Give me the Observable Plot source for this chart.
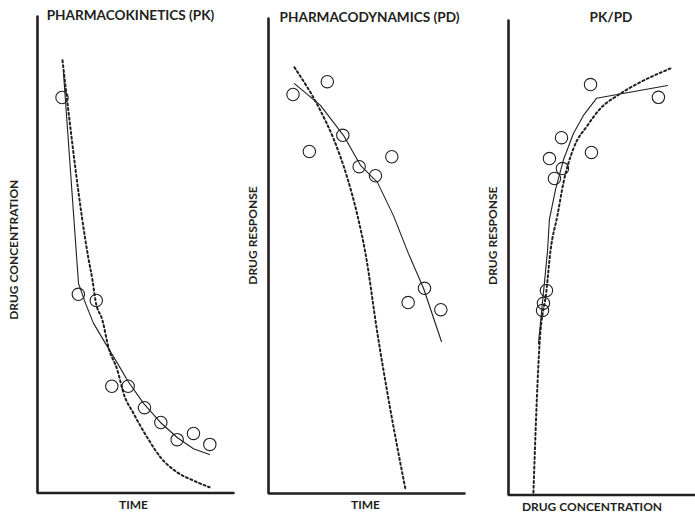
<!DOCTYPE html>
<html>
<head>
<meta charset="utf-8">
<script src="https://cdn.jsdelivr.net/npm/d3@7"></script>
<script src="https://cdn.jsdelivr.net/npm/@observablehq/plot@0.6"></script>
<style>
  body { margin: 0; background: #fff; }
  #chart { position: relative; width: 695px; height: 513px; overflow: hidden; }
  #chart > .panel { position: absolute; top: 0; }
</style>
</head>
<body>
<div id="chart"></div>
<script>
// Shared sampling times (h) for the observed data
const sampleTimes = [1.5, 2.5, 3.6, 4.55, 5.55, 6.55, 7.55, 8.55, 9.55, 10.55];

// Pharmacokinetics: observed concentration and two model curves
const pkObserved = [83.0, 41.7, 40.4, 22.4, 22.4, 17.9, 14.8, 11.2, 12.5, 10.2];
const pkFitTime = [1.59, 2.51, 2.94, 3.43, 4.16, 4.90, 5.51, 6.49, 7.53, 8.57, 9.55, 10.53];
const pkFitConc = [88.2, 44.0, 39.8, 35.6, 31.4, 27.2, 23.6, 18.8, 14.8, 11.6, 9.3, 8.1];
const pkAltTime = [1.53, 3.12, 3.37, 3.55, 3.98, 4.35, 4.90, 5.27, 5.88, 6.73, 7.53, 8.57, 9.55, 10.53];
const pkAltConc = [90.8, 49.2, 44.6, 40.4, 36.2, 30.5, 25.7, 20.9, 16.7, 11.6, 7.5, 4.3, 2.6, 1.2];

// Pharmacodynamics: observed response and two model curves
const pdObserved = [84.0, 72.0, 86.7, 75.4, 68.8, 66.9, 70.9, 40.2, 43.2, 38.7];
const pdFitTime = [1.59, 3.18, 4.59, 5.63, 6.67, 7.65, 8.57, 9.49, 10.59];
const pdFitResp = [86.3, 81.7, 75.4, 69.1, 65.5, 58.5, 50.5, 43.2, 32.0];
const pdAltTime = [1.59, 3.18, 3.98, 4.84, 5.45, 5.94, 6.67, 7.47, 8.39];
const pdAltResp = [89.7, 80.6, 74.7, 66.3, 58.5, 50.5, 33.7, 17.5, 0.8];

// PK/PD: response against concentration
const pkpdConc = [44.1, 80.6, 28.5, 22.0, 44.6, 29.0, 24.7, 20.4, 18.8, 18.3];
const pkpdResp = [86.5, 83.8, 75.3, 70.9, 72.2, 68.8, 66.7, 43.1, 40.4, 38.9];
const pkpdFitConc = [16.1, 21.0, 22.0, 25.3, 29.6, 34.9, 40.3, 47.3, 85.5];
const pkpdFitResp = [31.9, 51.5, 58.1, 64.4, 70.7, 76.2, 80.0, 83.6, 86.3];
const pkpdAltConc = [13.4, 15.6, 16.7, 20.4, 22.6, 26.3, 29.6, 34.9, 42.5, 49.5, 58.6, 69.4, 87.1];
const pkpdAltResp = [0.5, 23.5, 31.9, 43.1, 51.5, 58.9, 65.9, 73.0, 77.9, 81.5, 84.2, 86.7, 89.9];

// Axis extents and labels
const timeDomain = [0, 12];
const levelDomain = [0, 100];
const titles = ["PHARMACOKINETICS (PK)", "PHARMACODYNAMICS (PD)", "PK/PD"];
const xLabels = ["TIME", "TIME", "DRUG CONCENTRATION"];
const yLabels = ["DRUG CONCENTRATION", "DRUG RESPONSE", "DRUG RESPONSE"];

const ink = "#231f20";
const font = "Lato, 'Open Sans', sans-serif";

const pairs = (xs, ys) => xs.map((x, i) => ({x, y: ys[i]}));
const lFrame = (xd, yd) => [{x: xd[0], y: yd[1]}, {x: xd[0], y: yd[0]}, {x: xd[1], y: yd[0]}];

function panel(opts) {
  const {left, width, margin, xDomain, yDomain, observed, fit, alt, title, xLabel, yLabel, text} = opts;
  const labelStyle = {fill: ink, fontFamily: font, fontWeight: 700, lineAnchor: "middle", textAnchor: "middle"};
  const svg = Plot.plot({
    width,
    height: 513,
    marginLeft: margin[0],
    marginRight: margin[1],
    marginTop: margin[2],
    marginBottom: margin[3],
    x: {domain: xDomain, axis: null},
    y: {domain: yDomain, axis: null},
    style: {background: "transparent", overflow: "visible"},
    marks: [
      Plot.line(lFrame(xDomain, yDomain), {x: "x", y: "y", stroke: ink, strokeWidth: 2.6, strokeLinejoin: "miter"}),
      Plot.line(alt, {x: "x", y: "y", stroke: ink, strokeWidth: 2, strokeDasharray: "2 2.8", curve: "monotone-x"}),
      Plot.line(fit, {x: "x", y: "y", stroke: ink, strokeWidth: 1.1}),
      Plot.dot(observed, {x: "x", y: "y", r: 6.2, stroke: ink, strokeWidth: 1.1, fill: "none"}),
      Plot.text([title], {frameAnchor: "top", dx: text.title[0], dy: text.title[1], fontSize: 13.6, ...labelStyle}),
      Plot.text([xLabel], {frameAnchor: "bottom", dx: text.x[0], dy: text.x[1], fontSize: 12, ...labelStyle}),
      Plot.text([yLabel], {frameAnchor: "left", dx: text.y[0], dy: text.y[1], rotate: -90, fontSize: 12, ...labelStyle})
    ]
  });
  const holder = document.createElement("div");
  holder.className = "panel";
  holder.style.left = left + "px";
  holder.appendChild(svg);
  document.getElementById("chart").appendChild(holder);
}

panel({
  left: 0, width: 240, margin: [37, 7, 16, 20.5],
  xDomain: timeDomain, yDomain: levelDomain,
  observed: pairs(sampleTimes, pkObserved),
  fit: pairs(pkFitTime, pkFitConc),
  alt: pairs(pkAltTime, pkAltConc),
  title: titles[0], xLabel: xLabels[0], yLabel: yLabels[0],
  text: {title: [-5, -0.5], x: [-2, 12.5], y: [-23.5, -5]}
});

panel({
  left: 240, width: 235, margin: [28, 11, 18, 20],
  xDomain: timeDomain, yDomain: levelDomain,
  observed: pairs(sampleTimes, pdObserved),
  fit: pairs(pdFitTime, pdFitResp),
  alt: pairs(pdAltTime, pdAltResp),
  title: titles[1], xLabel: xLabels[1], yLabel: yLabels[1],
  text: {title: [3, -1], x: [-1, 12], y: [-15, -20.5]}
});

panel({
  left: 475, width: 220, margin: [33, 1, 20, 18.5],
  xDomain: levelDomain, yDomain: levelDomain,
  observed: pairs(pkpdConc, pkpdResp),
  fit: pairs(pkpdFitConc, pkpdFitResp),
  alt: pairs(pkpdAltConc, pkpdAltResp),
  title: titles[2], xLabel: xLabels[2], yLabel: yLabels[2],
  text: {title: [9.5, -2.5], x: [-9.5, 12], y: [-15, -22]}
});
</script>
</body>
</html>
